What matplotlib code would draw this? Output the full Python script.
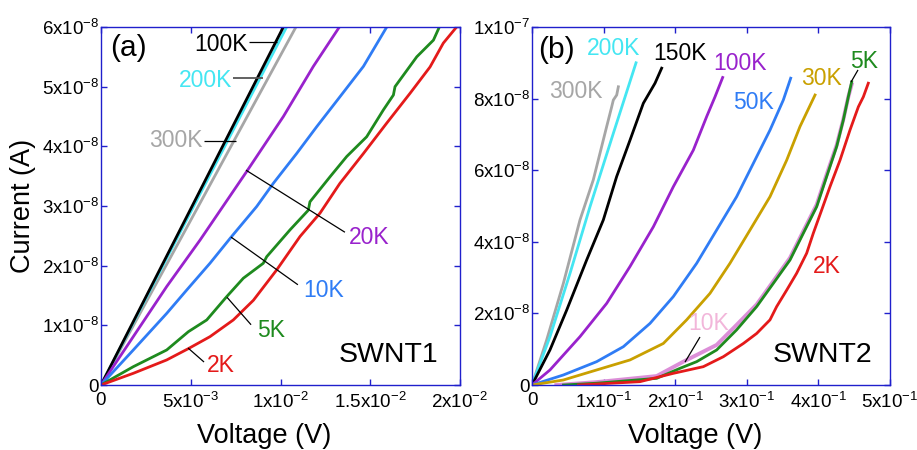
import matplotlib
matplotlib.use("Agg")
import matplotlib.pyplot as plt

plt.rcParams['font.family'] = ['Liberation Sans', 'DejaVu Sans']
plt.rcParams['mathtext.fontset'] = 'custom'
plt.rcParams['mathtext.rm'] = 'Liberation Sans'
plt.rcParams['mathtext.it'] = 'Liberation Sans:italic'
plt.rcParams['mathtext.bf'] = 'Liberation Sans:bold'
plt.rcParams['mathtext.default'] = 'regular'

# ---------------- Panel (a) SWNT1 data (V in volts, I in 1e-8 A) ----------------
a_100K_v = [0, 0.01016]
a_100K_i = [0, 6.0]
a_200K_v = [0, 0.01034]
a_200K_i = [0, 6.0]
a_300K_v = [0, 0.01086]
a_300K_i = [0, 6.0]
a_20K_v = [0, 0.00366, 0.00552, 0.00812, 0.01016, 0.01183, 0.01328]
a_20K_i = [0, 1.65, 2.43, 3.58, 4.5, 5.34, 6.0]
a_10K_v = [0, 0.0018, 0.00366, 0.00477, 0.00607, 0.00728, 0.00867, 0.0096, 0.0109, 0.01202, 0.01331, 0.01462, 0.01592]
a_10K_i = [0, 0.587, 1.2, 1.59, 2.04, 2.49, 2.99, 3.38, 3.88, 4.33, 4.83, 5.34, 6.0]
a_5K_v = [0, 0.0018, 0.00366, 0.00487, 0.00589, 0.007, 0.00793, 0.00904, 0.00923, 0.01053, 0.01155,
          0.01164, 0.01276, 0.01369, 0.0148, 0.01573, 0.01629, 0.01638, 0.01759, 0.01852, 0.01885]
a_5K_i = [0, 0.307, 0.587, 0.894, 1.09, 1.48, 1.79, 2.04, 2.15, 2.6, 2.93,
          3.07, 3.49, 3.83, 4.16, 4.61, 4.86, 5.0, 5.5, 5.78, 6.0]
a_2K_v = [0, 0.0018, 0.00366, 0.00487, 0.00607, 0.00737, 0.00849, 0.00979, 0.01109, 0.0122,
          0.01331, 0.01462, 0.01592, 0.01722, 0.01833, 0.01907, 0.01981]
a_2K_i = [0, 0.196, 0.42, 0.61, 0.81, 1.09, 1.42, 1.93, 2.49, 2.88,
          3.38, 3.88, 4.39, 4.89, 5.33, 5.73, 6.0]

# ---------------- Panel (b) SWNT2 data (V in volts, I in 1e-8 A) ----------------
b_300K_v = [0, 0.0205, 0.0438, 0.067, 0.0856, 0.0949, 0.1043, 0.1113, 0.1136, 0.1183, 0.1206]
b_300K_i = [0, 1.26, 2.84, 4.61, 5.73, 6.47, 7.22, 7.77, 7.96, 8.1, 8.33]
b_200K_v = [0, 0.0251, 0.0531, 0.081, 0.1136, 0.1453]
b_200K_i = [0, 1.35, 3.12, 4.98, 7.03, 9.0]
b_150K_v = [0, 0.0251, 0.0484, 0.0763, 0.0996, 0.1182, 0.1369, 0.1555, 0.1718, 0.1811]
b_150K_i = [0, 0.98, 2.09, 3.49, 4.61, 5.82, 6.84, 7.87, 8.43, 8.85]
b_100K_v = [0, 0.0251, 0.067, 0.1043, 0.1369, 0.1695, 0.1974, 0.2253, 0.244, 0.2556, 0.2663]
b_100K_i = [0, 0.42, 1.35, 2.28, 3.31, 4.42, 5.54, 6.56, 7.5, 8.05, 8.59]
b_50K_v = [0, 0.0438, 0.0903, 0.1276, 0.1648, 0.1974, 0.23, 0.2579, 0.2858, 0.3091, 0.3324, 0.351, 0.3613]
b_50K_i = [0, 0.28, 0.652, 1.07, 1.72, 2.47, 3.4, 4.33, 5.26, 6.19, 7.12, 7.96, 8.57]
b_30K_v = [0, 0.0438, 0.0903, 0.1369, 0.1834, 0.216, 0.2486, 0.2765, 0.3045, 0.3324, 0.3557, 0.3743, 0.3953]
b_30K_i = [0, 0.14, 0.42, 0.7, 1.16, 1.82, 2.56, 3.4, 4.33, 5.26, 6.28, 7.22, 8.1]
b_10K_v = [0.034, 0.09, 0.1741, 0.2114, 0.2579, 0.2858, 0.3138, 0.3371, 0.3603, 0.379, 0.3976,
           0.4115, 0.4255, 0.4348, 0.4418, 0.4465]
b_10K_i = [0, 0.08, 0.25, 0.652, 1.12, 1.68, 2.25, 2.9, 3.55, 4.3, 5.04,
           5.88, 6.7, 7.42, 8.05, 8.4]
b_5K_v = [0.044, 0.0903, 0.1741, 0.2067, 0.23, 0.2579, 0.2858, 0.3138, 0.3371, 0.3603, 0.379,
          0.3976, 0.4115, 0.4255, 0.4348, 0.4418, 0.4465]
b_5K_i = [0, 0.05, 0.186, 0.466, 0.652, 0.978, 1.54, 2.19, 2.84, 3.49, 4.24,
          4.98, 5.82, 6.66, 7.4, 8.05, 8.47]
b_2K_v = [0.065, 0.1508, 0.1974, 0.2393, 0.2672, 0.2952, 0.3138, 0.3324, 0.3417, 0.3557, 0.3696,
          0.3836, 0.3929, 0.4046, 0.4162, 0.4302, 0.4441, 0.4558, 0.4628, 0.4697]
b_2K_i = [0, 0.093, 0.326, 0.512, 0.79, 1.16, 1.44, 1.82, 2.19, 2.65, 3.12,
          3.68, 4.24, 4.89, 5.54, 6.28, 7.12, 7.77, 8.05, 8.43]

# ---------------- ticks ----------------
a_xticks = [0, 0.005, 0.01, 0.015, 0.02]
a_xticklabels = ['0', '5x10$^{-3}$', '1x10$^{-2}$', '1.5x10$^{-2}$', '2x10$^{-2}$']
a_yticks = [0, 1, 2, 3, 4, 5, 6]
a_yticklabels = ['0', '1x10$^{-8}$', '2x10$^{-8}$', '3x10$^{-8}$', '4x10$^{-8}$', '5x10$^{-8}$', '6x10$^{-8}$']
b_xticks = [0, 0.1, 0.2, 0.3, 0.4, 0.5]
b_xticklabels = ['0', '1x10$^{-1}$', '2x10$^{-1}$', '3x10$^{-1}$', '4x10$^{-1}$', '5x10$^{-1}$']
b_yticks = [0, 2, 4, 6, 8, 10]
b_yticklabels = ['0', '2x10$^{-8}$', '4x10$^{-8}$', '6x10$^{-8}$', '8x10$^{-8}$', '1x10$^{-7}$']

C_BLACK = '#000000'
C_CYAN = '#44e6f2'
C_GRAY = '#a6a6a6'
C_PURPLE = '#9922cc'
C_BLUE = '#2f7cf5'
C_GREEN = '#1e8a1e'
C_RED = '#e41a1a'
C_GOLD = '#c9a000'
C_PINK = '#dc8ed8'
C_PINKLBL = '#f2b6da'
SPINE = '#2020cc'

W, H = 917, 450
fig = plt.figure(figsize=(W / 100, H / 100), dpi=100)
axa = fig.add_axes([101 / W, 1 - 385 / H, 359 / W, 358 / H])
axb = fig.add_axes([532 / W, 1 - 385 / H, 358 / W, 358 / H])

TICKFS = 13.5
LBLFS = 16.5
LW = 2.0

for ax in (axa, axb):
    for s in ax.spines.values():
        s.set_color(SPINE)
        s.set_linewidth(1.0)
    ax.tick_params(direction='in', top=True, right=True, length=4.5, width=1,
                   color=SPINE, labelsize=TICKFS, labelcolor='black')
    ax.tick_params(axis='y', pad=1.5)
    ax.tick_params(axis='x', pad=5)

# ----- panel a -----
axa.plot(a_300K_v, a_300K_i, color=C_GRAY, lw=LW)
axa.plot(a_200K_v, a_200K_i, color=C_CYAN, lw=LW)
axa.plot(a_100K_v, a_100K_i, color=C_BLACK, lw=LW)
axa.plot(a_20K_v, a_20K_i, color=C_PURPLE, lw=LW)
axa.plot(a_10K_v, a_10K_i, color=C_BLUE, lw=LW)
axa.plot(a_5K_v, a_5K_i, color=C_GREEN, lw=LW)
axa.plot(a_2K_v, a_2K_i, color=C_RED, lw=LW)
axa.set_xlim(0, 0.02)
axa.set_ylim(0, 6)
axa.set_xticks(a_xticks, a_xticklabels)
axa.set_yticks(a_yticks, a_yticklabels)


def lead(ax, x0, y0, x1, y1, color='black', lw=0.9):
    ax.plot([x0, x1], [y0, y1], color=color, lw=lw, solid_capstyle='butt')


axa.text(0.00819, 5.70, '100K', color=C_BLACK, fontsize=LBLFS, ha='right', va='center')
lead(axa, 0.00825, 5.75, 0.0098, 5.75)
axa.text(0.0073, 5.11, '200K', color=C_CYAN, fontsize=LBLFS, ha='right', va='center')
lead(axa, 0.00735, 5.15, 0.00903, 5.15, color='#555555', lw=1.3)
axa.text(0.00568, 4.09, '300K', color=C_GRAY, fontsize=LBLFS, ha='right', va='center')
lead(axa, 0.00574, 4.09, 0.00752, 4.09)
axa.text(0.01382, 2.48, '20K', color=C_PURPLE, fontsize=LBLFS, ha='left', va='center')
lead(axa, 0.00808, 3.6, 0.01359, 2.56)
axa.text(0.01125, 1.59, '10K', color=C_BLUE, fontsize=LBLFS, ha='left', va='center')
lead(axa, 0.00724, 2.48, 0.01097, 1.68)
axa.text(0.00869, 0.92, '5K', color=C_GREEN, fontsize=LBLFS, ha='left', va='center')
lead(axa, 0.00702, 1.47, 0.00836, 1.01)
axa.text(0.0059, 0.335, '2K', color=C_RED, fontsize=LBLFS, ha='left', va='center')
lead(axa, 0.00485, 0.62, 0.00574, 0.385)
axa.text(0.025, 0.941, '(a)', transform=axa.transAxes, fontsize=21.5, ha='left', va='center')
axa.text(0.939, 0.084, 'SWNT1', transform=axa.transAxes, fontsize=20.5, ha='right', va='center')

# ----- panel b -----
axb.plot(b_300K_v, b_300K_i, color=C_GRAY, lw=LW)
axb.plot(b_200K_v, b_200K_i, color=C_CYAN, lw=LW)
axb.plot(b_150K_v, b_150K_i, color=C_BLACK, lw=LW)
axb.plot(b_100K_v, b_100K_i, color=C_PURPLE, lw=LW)
axb.plot(b_50K_v, b_50K_i, color=C_BLUE, lw=LW)
axb.plot(b_30K_v, b_30K_i, color=C_GOLD, lw=LW)
axb.plot(b_10K_v, b_10K_i, color=C_PINK, lw=2.8)
axb.plot(b_5K_v, b_5K_i, color=C_GREEN, lw=LW)
axb.plot(b_2K_v, b_2K_i, color=C_RED, lw=LW)
axb.set_xlim(0, 0.5)
axb.set_ylim(0, 10)
axb.set_xticks(b_xticks, b_xticklabels)
axb.set_yticks(b_yticks, b_yticklabels)

axb.text(0.0768, 9.41, '200K', color=C_CYAN, fontsize=LBLFS, ha='left', va='center')
axb.text(0.169, 9.27, '150K', color=C_BLACK, fontsize=LBLFS, ha='left', va='center')
axb.text(0.2528, 8.99, '100K', color=C_PURPLE, fontsize=LBLFS, ha='left', va='center')
axb.text(0.0237, 8.21, '300K', color=C_GRAY, fontsize=LBLFS, ha='left', va='center')
axb.text(0.2807, 7.90, '50K', color=C_BLUE, fontsize=LBLFS, ha='left', va='center')
axb.text(0.3757, 8.55, '30K', color=C_GOLD, fontsize=LBLFS, ha='left', va='center')
axb.text(0.444, 9.05, '5K', color=C_GREEN, fontsize=LBLFS, ha='left', va='center')
lead(axb, 0.4553, 8.8, 0.4455, 8.46)
axb.text(0.3925, 3.32, '2K', color=C_RED, fontsize=LBLFS, ha='left', va='center')
axb.text(0.2179, 1.73, '10K', color=C_PINKLBL, fontsize=LBLFS, ha='left', va='center')
lead(axb, 0.2346, 1.34, 0.2137, 0.64)
axb.text(0.0168, 0.936, '(b)', transform=axb.transAxes, fontsize=21.5, ha='left', va='center')
axb.text(0.95, 0.084, 'SWNT2', transform=axb.transAxes, fontsize=20.5, ha='right', va='center')

# axis labels
fig.text(23 / W, 1 - 206 / H, 'Current (A)', rotation=90, fontsize=19.5, ha='center', va='center')
fig.text(264 / W, 1 - 436 / H, 'Voltage (V)', fontsize=19.5, ha='center', va='center')
fig.text(695 / W, 1 - 436 / H, 'Voltage (V)', fontsize=19.5, ha='center', va='center')

fig.savefig('out.png', dpi=100)
